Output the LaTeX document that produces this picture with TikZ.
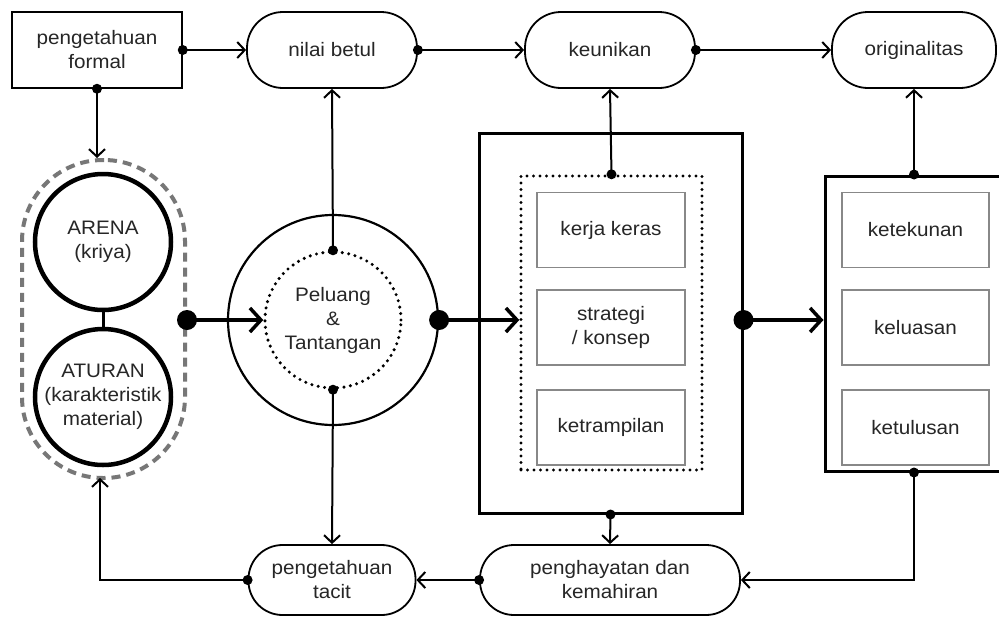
\documentclass[tikz,border=0pt]{standalone}
\usepackage{fontspec}
\setmainfont[FakeStretch=1.06]{Liberation Sans}
\usetikzlibrary{arrows.meta}
\definecolor{txt}{HTML}{262626}
\definecolor{dashgray}{HTML}{777777}
\definecolor{boxgray}{HTML}{888888}
\begin{document}
\begin{tikzpicture}[x=1pt,y=-1pt,
  every node/.style={font=\fontsize{19.5}{24}\selectfont, text=txt, align=center, inner sep=0pt},
  sqbox/.style={draw, line width=1.5, minimum width=170, minimum height=76},
  pill/.style={draw, line width=1.8, rounded corners=36, minimum width=170, minimum height=76},
  ring/.style={circle, draw, line width=4.5, minimum size=136},
  subbox/.style={draw=boxgray, line width=1.6, minimum width=148, minimum height=75},
  dotline/.style={line width=3.4, line cap=round, dash pattern=on 0pt off 6.5pt},
  thinarr/.style={line width=2, -{Straight Barb[length=7.5pt,width=16pt]}},
  thickarr/.style={line width=3.5, -{Straight Barb[length=11pt,width=24pt]}},
]
\clip (0,0) rectangle (999,627);
\fill[white] (0,0) rectangle (999,627);

% top row
\node[sqbox] (pf) at (97,50) {pengetahuan\\formal};
\node[pill] (nb) at (332,50) {nilai betul};
\node[pill] (ku) at (610,50) {keunikan};
\node[pill, minimum width=164] (og) at (914,50) {originalitas};

% left pill with two rings
\node[draw=dashgray, line width=4, dash pattern=on 9pt off 6pt, rounded corners=81,
      minimum width=163, minimum height=318] (lp) at (103.5,319) {};
\node[ring] (ar) at (103,242) {ARENA\\(kriya)};
\node[ring] (at) at (103,397) {ATURAN\\(karakteristik\\material)};
\draw[line width=3] (ar.south) -- (at.north);

% Peluang circle
\node[circle, draw, line width=2.2, minimum size=210] (pc) at (333,320) {};
\node[circle, draw, dotline, minimum size=136] (pi) at (333,320) {Peluang\\\&\\Tantangan};

% middle box
\node[draw, line width=3, minimum width=263, minimum height=380] (mb) at (610.5,323) {};
\node[draw, dotline, minimum width=181, minimum height=294] (md) at (611.5,323) {};
\node[subbox] (k1) at (611,230) {kerja keras};
\node[subbox] (k2) at (611,327.5) {strategi\\/ konsep};
\node[subbox] (k3) at (611,427.5) {ketrampilan};

% right box (cut at the edge)
\node[draw, line width=3, minimum width=190, minimum height=295] (rb) at (920,323.5) {};
\node[subbox, minimum width=147] (r1) at (915.5,230) {ketekunan};
\node[subbox, minimum width=147] (r2) at (915.5,327.5) {keluasan};
\node[subbox, minimum width=147] (r3) at (915.5,427.5) {ketulusan};

% bottom row
\node[pill, minimum width=167, minimum height=70, rounded corners=34] (tc) at (332,580) {pengetahuan\\tacit};
\node[pill, minimum width=260, minimum height=70, rounded corners=34] (ph) at (610,580) {penghayatan dan\\kemahiran};

% coordinates for connector ends
\coordinate (lpE) at (lp.east |- pi.west);
\coordinate (pcE) at (pc.east);
\coordinate (mdW) at (md.west |- pc.east);
\coordinate (mbE) at (mb.east |- pc.east);
\coordinate (rbW) at (rb.west |- pc.east);
\coordinate (rbN) at (og.south |- rb.north);
\coordinate (rbS) at (og.south |- rb.south);
\coordinate (pfS) at (pf.south);
\coordinate (lpN) at (pf.south |- lp.north);
\coordinate (lpS) at (100,478);
\coordinate (lc) at (100,580);
\coordinate (rc) at (rbS |- ph.east);

% top connectors
\draw[thinarr] (pf.east) -- (nb.west);
\draw[thinarr] (nb.east) -- (ku.west);
\draw[thinarr] (ku.east) -- (og.west);
\draw[thinarr] (pfS) -- (lpN);
\draw[thinarr] (pi.north) -- (nb.south);
\draw[thinarr] (md.north) -- (ku.south);
\draw[thinarr] (rbN) -- (og.south);

% thick horizontal connectors
\draw[thickarr] (lpE) -- (pi.west);
\draw[thickarr] (pcE) -- (mdW);
\draw[thickarr] (mbE) -- (rbW);

% bottom connectors
\draw[thinarr] (pi.south) -- (tc.north);
\draw[thinarr] (mb.south) -- (ph.north);
\draw[thinarr] (rbS) -- (rc) -- (ph.east);
\draw[thinarr] (ph.west) -- (tc.east);
\draw[thinarr] (tc.west) -- (lc) -- (lpS);

% dots
\foreach \p in {pf.east, nb.east, ku.east, pfS, pi.north, pi.south, md.north, rbN, mb.south, rbS, ph.west, tc.west}
  \fill (\p) circle (5);
\foreach \p in {lpE, pcE, mbE}
  \fill (\p) circle (10);
\end{tikzpicture}
\end{document}
